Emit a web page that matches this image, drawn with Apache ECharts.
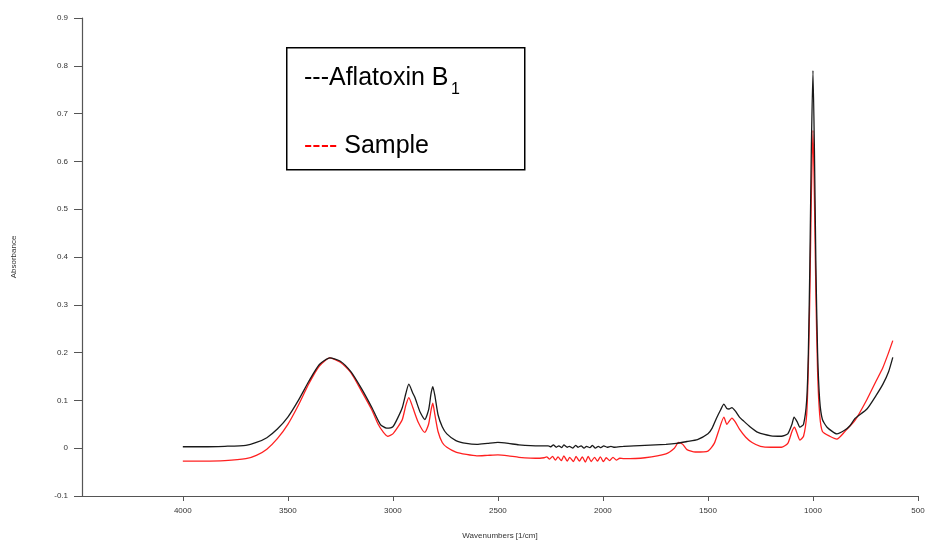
<!DOCTYPE html>
<html>
<head>
<meta charset="utf-8">
<script src="https://cdn.jsdelivr.net/npm/echarts@6/dist/echarts.min.js"></script>
<style>
  html, body { margin: 0; padding: 0; background: #fff; }
  #chart { width: 930px; height: 545px; }
</style>
</head>
<body>
<div id="chart"></div>
<script>
// tick labels
const xTicks = [4000, 3500, 3000, 2500, 2000, 1500, 1000, 500];
const yTicks = [-0.1, 0, 0.1, 0.2, 0.3, 0.4, 0.5, 0.6, 0.7, 0.8, 0.9];

// [wavenumber, absorbance]
const aflatoxin = [
  [4000, 0.003], [3900, 0.003], [3800, 0.004], [3700, 0.006], [3650, 0.012],
  [3600, 0.022], [3550, 0.04], [3500, 0.065], [3450, 0.1], [3400, 0.14],
  [3350, 0.175], [3300, 0.189], [3250, 0.182], [3200, 0.16], [3150, 0.125],
  [3100, 0.085], [3060, 0.05], [3030, 0.042], [3000, 0.045], [2975, 0.065],
  [2955, 0.085], [2938, 0.115], [2924, 0.134], [2905, 0.115], [2895, 0.106],
  [2870, 0.075], [2848, 0.06], [2830, 0.08], [2818, 0.115], [2810, 0.129],
  [2800, 0.11], [2785, 0.07], [2765, 0.045], [2743, 0.03], [2700, 0.016],
  [2650, 0.01], [2600, 0.008], [2550, 0.01], [2500, 0.012], [2450, 0.01],
  [2400, 0.007], [2300, 0.005], [2260, 0.005], [2248, 0.003], [2236, 0.007],
  [2222, 0.002], [2210, 0.005], [2196, 0.001], [2186, 0.007], [2170, 0.002],
  [2160, 0.004], [2143, 0.0], [2130, 0.006], [2118, 0.002], [2104, 0.005],
  [2090, 0.0], [2078, 0.004], [2062, 0.001], [2050, 0.006], [2036, 0.0],
  [2022, 0.004], [2010, 0.001], [1996, 0.005], [1980, 0.002], [1962, 0.004],
  [1945, 0.002], [1900, 0.004], [1800, 0.006], [1700, 0.008], [1650, 0.01],
  [1600, 0.014], [1550, 0.018], [1500, 0.03], [1480, 0.042], [1460, 0.062],
  [1440, 0.08], [1424, 0.092], [1410, 0.083], [1400, 0.082], [1386, 0.085],
  [1370, 0.078], [1350, 0.065], [1333, 0.058], [1300, 0.045], [1262, 0.033],
  [1200, 0.026], [1150, 0.025], [1120, 0.03], [1100, 0.05], [1090, 0.065],
  [1075, 0.055], [1062, 0.044], [1045, 0.05], [1030, 0.1], [1022, 0.2],
  [1015, 0.38], [1008, 0.62], [1000, 0.79], [993, 0.62], [986, 0.38],
  [978, 0.2], [968, 0.1], [955, 0.06], [933, 0.044], [886, 0.03],
  [848, 0.038], [824, 0.047], [800, 0.062], [743, 0.082], [700, 0.11],
  [667, 0.134], [640, 0.16], [620, 0.19]
];

const sample = [
  [4000, -0.027], [3900, -0.027], [3800, -0.026], [3700, -0.022], [3650, -0.015],
  [3600, -0.002], [3550, 0.02], [3500, 0.05], [3450, 0.09], [3400, 0.135],
  [3350, 0.172], [3300, 0.189], [3250, 0.18], [3200, 0.158], [3150, 0.12],
  [3100, 0.08], [3070, 0.05], [3048, 0.035], [3025, 0.025], [3000, 0.03],
  [2975, 0.045], [2955, 0.06], [2938, 0.09], [2924, 0.106], [2905, 0.085],
  [2880, 0.055], [2848, 0.033], [2830, 0.05], [2818, 0.08], [2810, 0.094],
  [2800, 0.07], [2785, 0.035], [2765, 0.012], [2743, 0.002], [2700, -0.008],
  [2650, -0.013], [2600, -0.016], [2550, -0.015], [2500, -0.014], [2450, -0.016],
  [2400, -0.019], [2300, -0.021], [2280, -0.02], [2268, -0.018], [2254, -0.023],
  [2240, -0.017], [2226, -0.025], [2214, -0.018], [2198, -0.026], [2186, -0.016],
  [2170, -0.027], [2158, -0.019], [2140, -0.028], [2128, -0.017], [2112, -0.027],
  [2098, -0.018], [2084, -0.029], [2070, -0.017], [2056, -0.028], [2040, -0.019],
  [2026, -0.027], [2012, -0.018], [1998, -0.028], [1984, -0.02], [1968, -0.026],
  [1952, -0.019], [1936, -0.025], [1920, -0.021], [1900, -0.022], [1800, -0.02],
  [1700, -0.012], [1660, 0.0], [1640, 0.012], [1620, 0.008], [1600, -0.003],
  [1560, -0.008], [1500, -0.006], [1470, 0.01], [1450, 0.035], [1424, 0.065],
  [1410, 0.05], [1386, 0.063], [1370, 0.055], [1350, 0.04], [1320, 0.023],
  [1290, 0.012], [1250, 0.004], [1200, 0.002], [1150, 0.002], [1120, 0.01],
  [1100, 0.035], [1088, 0.044], [1075, 0.03], [1062, 0.017], [1045, 0.025],
  [1030, 0.07], [1022, 0.17], [1015, 0.32], [1008, 0.52], [1000, 0.665],
  [993, 0.52], [986, 0.32], [978, 0.16], [968, 0.07], [955, 0.035],
  [920, 0.025], [886, 0.019], [848, 0.035], [800, 0.058], [743, 0.102],
  [700, 0.14], [667, 0.169], [640, 0.2], [620, 0.225]
];

const axisFont = { fontFamily: 'Liberation Sans', fontSize: 8, color: '#333' };

const chart = echarts.init(document.getElementById('chart'));

chart.setOption({
  animation: false,
  grid: { left: 82, right: 12, top: 18, bottom: 48 },
  xAxis: {
    type: 'value',
    inverse: true,
    min: 500,
    max: 4480,
    name: 'Wavenumbers [1/cm]',
    nameLocation: 'middle',
    nameGap: 36,
    nameTextStyle: axisFont,
    axisLine: { onZero: false, lineStyle: { color: '#555', width: 1.2 } },
    axisTick: { length: 5, lineStyle: { color: '#555' }, customValues: xTicks },
    axisLabel: Object.assign({ margin: 11, customValues: xTicks, formatter: v => String(v) }, axisFont),
    splitLine: { show: false }
  },
  yAxis: {
    type: 'value',
    min: -0.1,
    max: 0.9,
    name: 'Absorbance',
    nameLocation: 'middle',
    nameRotate: 90,
    nameGap: 64,
    nameTextStyle: axisFont,
    axisLine: { show: true, onZero: false, lineStyle: { color: '#555', width: 1.2 } },
    axisTick: { show: true, length: 8, lineStyle: { color: '#555' }, customValues: yTicks },
    axisLabel: Object.assign({
      margin: 14,
      customValues: yTicks,
      formatter: v => String(Math.round(v * 10) / 10)
    }, axisFont),
    splitLine: { show: false }
  },
  series: [
    {
      name: 'Aflatoxin B1',
      type: 'line',
      data: aflatoxin,
      showSymbol: false,
      smooth: 0.2,
      lineStyle: { color: '#1a1a1a', width: 1.3 },
      z: 3
    },
    {
      name: 'Sample',
      type: 'line',
      data: sample,
      showSymbol: false,
      smooth: 0.2,
      lineStyle: { color: '#ff2020', width: 1.3 },
      z: 2
    }
  ],
  graphic: [
    {
      type: 'rect',
      left: 286, top: 47,
      shape: { width: 238, height: 122 },
      style: { fill: '#fff', stroke: '#000', lineWidth: 1.5 },
      z: 10
    },
    {
      type: 'text',
      left: 304, top: 66,
      style: { text: '---Aflatoxin B', fontFamily: 'Liberation Sans', fontSize: 25, fill: '#000' },
      z: 11
    },
    {
      type: 'text',
      left: 451, top: 82,
      style: { text: '1', fontFamily: 'Liberation Sans', fontSize: 16, fill: '#000' },
      z: 11
    },
    {
      type: 'text',
      left: 304, top: 134,
      style: {
        text: '{r|----} {k|Sample}',
        fontFamily: 'Liberation Sans',
        fontSize: 25,
        rich: {
          r: { fill: '#ff0000', fontFamily: 'Liberation Sans', fontSize: 25 },
          k: { fill: '#000', fontFamily: 'Liberation Sans', fontSize: 25 }
        }
      },
      z: 11
    }
  ]
});
</script>
</body>
</html>
